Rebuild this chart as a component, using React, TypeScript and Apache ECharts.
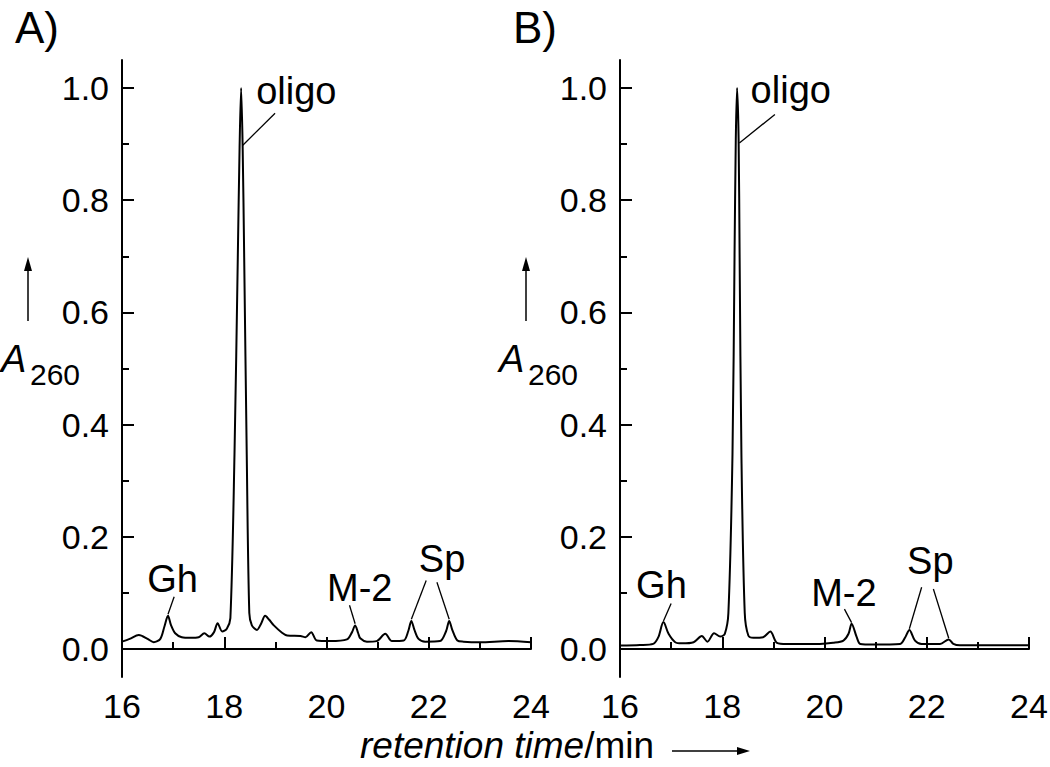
import React, { useEffect, useRef } from 'react';
import * as echarts from 'echarts';

// Panel A chromatogram (retention time in min, normalised A260)
const timeA = [16.0, 16.15, 16.33, 16.5, 16.62, 16.75, 16.83, 16.9, 16.96, 17.04, 17.17, 17.34, 17.5, 17.61, 17.71, 17.8, 17.87, 17.96, 18.05, 18.12, 18.2, 18.265, 18.3, 18.33, 18.36, 18.39, 18.44, 18.49, 18.54, 18.64, 18.72, 18.8, 18.88, 18.97, 19.13, 19.23, 19.49, 19.59, 19.7, 19.81, 20.07, 20.4, 20.5, 20.56, 20.62, 20.66, 20.79, 20.98, 21.15, 21.28, 21.51, 21.6, 21.66, 21.72, 21.8, 21.93, 22.22, 22.34, 22.4, 22.46, 22.56, 22.68, 23.0, 23.56, 24.0];
const absA = [0.013, 0.018, 0.025, 0.018, 0.012, 0.018, 0.04, 0.059, 0.042, 0.028, 0.021, 0.02, 0.021, 0.028, 0.022, 0.03, 0.046, 0.031, 0.036, 0.055, 0.346, 0.698, 0.895, 1.0, 0.895, 0.698, 0.346, 0.064, 0.042, 0.034, 0.045, 0.059, 0.052, 0.042, 0.029, 0.024, 0.023, 0.021, 0.03, 0.015, 0.014, 0.017, 0.03, 0.042, 0.028, 0.019, 0.013, 0.014, 0.027, 0.014, 0.015, 0.032, 0.05, 0.034, 0.018, 0.013, 0.014, 0.032, 0.05, 0.034, 0.015, 0.013, 0.012, 0.014, 0.012];

// Panel B chromatogram
const timeB = [16.0, 16.39, 16.65, 16.75, 16.85, 16.95, 17.08, 17.21, 17.44, 17.6, 17.71, 17.84, 17.96, 18.05, 18.12, 18.2, 18.24, 18.265, 18.29, 18.32, 18.34, 18.375, 18.44, 18.51, 18.61, 18.8, 18.94, 19.07, 19.26, 19.65, 19.91, 20.17, 20.37, 20.47, 20.53, 20.63, 20.7, 20.96, 21.48, 21.58, 21.66, 21.77, 21.9, 22.26, 22.43, 22.52, 22.65, 24.0];
const absB = [0.006, 0.007, 0.009, 0.021, 0.048, 0.027, 0.012, 0.01, 0.012, 0.023, 0.013, 0.028, 0.022, 0.027, 0.064, 0.346, 0.698, 0.909, 1.0, 0.909, 0.698, 0.346, 0.064, 0.024, 0.02, 0.021, 0.031, 0.011, 0.009, 0.009, 0.009, 0.011, 0.015, 0.027, 0.045, 0.021, 0.009, 0.008, 0.009, 0.021, 0.034, 0.015, 0.009, 0.009, 0.017, 0.009, 0.0065, 0.0065];

const yLabelValues = [0, 0.2, 0.4, 0.6, 0.8, 1.0];
const yMinorValues = [0.1, 0.3, 0.5, 0.7, 0.9];
const panelTitles = ['A)', 'B)'];
const peakNames = ['oligo', 'Gh', 'M-2', 'Sp'];
const labelPosA = [[19.41, 0.994], [16.99, 0.1255], [20.65, 0.108], [22.26, 0.161]];
const labelPosB = [[19.34, 0.996], [16.81, 0.114], [20.38, 0.099], [22.07, 0.157]];
const leadersA = [
  [[18.363, 0.898], [18.994, 0.955]],
  [[16.9, 0.062], [17.02, 0.093]],
  [[20.56, 0.045], [20.45, 0.078]],
  [[21.66, 0.053], [21.95, 0.122]],
  [[22.4, 0.053], [22.16, 0.119]],
];
const leadersB = [
  [[18.335, 0.902], [19.03, 0.953]],
  [[16.85, 0.05], [17.0, 0.081]],
  [[20.53, 0.047], [20.39, 0.071]],
  [[21.66, 0.036], [21.9, 0.11]],
  [[22.43, 0.019], [22.13, 0.107]],
];

const FONT = '"Liberation Sans", Arial, Helvetica, sans-serif';

export default function App() {
  const ref = useRef<HTMLDivElement>(null);
  useEffect(() => {
    document.body.style.margin = '0';
    if (!ref.current) return;
    const chart = echarts.init(ref.current, null, { renderer: 'svg' });
    const lefts = [122, 620];
    const top = 60;
    const w = 409;
    const h = 617;
    const panels = [
      { t: timeA, a: absA, lab: labelPosA, lead: leadersA },
      { t: timeB, a: absB, lab: labelPosB, lead: leadersB },
    ];
    const grid = lefts.map((l) => ({ left: l, top, width: w, height: h, outerBoundsMode: 'none' }));
    const xAxis = lefts.map((_, i) => ({
      type: 'value', gridIndex: i, min: 16, max: 24, interval: 2,
      axisLine: { show: true, lineStyle: { color: '#000', width: 2 } },
      axisTick: { show: true, inside: true, length: 12, lineStyle: { color: '#000', width: 2 } },
      minorTick: { show: true, splitNumber: 2, length: 7, lineStyle: { color: '#000', width: 2 } },
      axisLabel: { show: true, margin: 12, color: '#000', fontSize: 34, fontFamily: FONT },
      splitLine: { show: false },
    }));
    const yAxis: any[] = [];
    lefts.forEach((_, i) => {
      yAxis.push({
        type: 'value', gridIndex: i, min: -0.05, max: 1.05, position: 'left',
        axisLine: { show: true, lineStyle: { color: '#000', width: 2 } },
        axisTick: { show: true, inside: true, length: 12, customValues: yLabelValues, lineStyle: { color: '#000', width: 2 } },
        axisLabel: { show: true, margin: 13, color: '#000', fontSize: 34, fontFamily: FONT, customValues: yLabelValues, formatter: (v: number) => v.toFixed(1) },
        splitLine: { show: false },
      });
      yAxis.push({
        type: 'value', gridIndex: i, min: -0.05, max: 1.05, position: 'left',
        axisLine: { show: false },
        axisTick: { show: true, inside: true, length: 7, customValues: yMinorValues, lineStyle: { color: '#000', width: 2 } },
        axisLabel: { show: false },
        splitLine: { show: false },
      });
    });
    const series = panels.map((p, i) => ({
      type: 'line', xAxisIndex: i, yAxisIndex: i * 2,
      data: p.t.map((t, k) => [t, p.a[k]]),
      showSymbol: false, smooth: 0.3, silent: true,
      lineStyle: { color: '#000', width: 2 },
      markLine: {
        silent: true, symbol: ['none', 'none'], animation: false,
        label: { show: false },
        lineStyle: { color: '#000', width: 1.3, type: 'solid' },
        data: p.lead.map((l) => [{ coord: l[0] }, { coord: l[1] }]),
      },
      markPoint: {
        silent: true, animation: false, symbol: 'circle', symbolSize: 1,
        itemStyle: { color: 'rgba(0,0,0,0)' },
        label: { show: true, position: 'inside', formatter: '{b}', color: '#000', fontSize: 38, fontFamily: FONT },
        data: peakNames.map((n, k) => ({ name: n, coord: p.lab[k] })),
      },
    }));
    const graphic: any[] = [];
    lefts.forEach((L, i) => {
      graphic.push({ type: 'text', x: L - 107, y: 27, style: { text: panelTitles[i], fontSize: 44, fontFamily: FONT, fill: '#000', align: 'left', verticalAlign: 'middle' } });
      graphic.push({ type: 'line', shape: { x1: L - 94, y1: 321, x2: L - 94, y2: 268 }, style: { stroke: '#000', lineWidth: 1.5 } });
      graphic.push({ type: 'polygon', shape: { points: [[L - 94, 257], [L - 98, 271], [L - 90, 271]] }, style: { fill: '#000' } });
      graphic.push({ type: 'text', x: L - 121, y: 359, style: { text: 'A', fontSize: 38, fontStyle: 'italic', fontFamily: FONT, fill: '#000', align: 'left', verticalAlign: 'middle' } });
      graphic.push({ type: 'text', x: L - 92, y: 374, style: { text: '260', fontSize: 30, fontFamily: FONT, fill: '#000', align: 'left', verticalAlign: 'middle' } });
    });
    graphic.push({
      type: 'text', x: 360, y: 745,
      style: {
        text: '{i|retention time}{n|/min}', align: 'left', verticalAlign: 'middle',
        rich: {
          i: { fontSize: 37, fontStyle: 'italic', fontFamily: FONT, fill: '#000', color: '#000' },
          n: { fontSize: 37, fontFamily: FONT, fill: '#000', color: '#000' },
        },
      },
    });
    graphic.push({ type: 'line', shape: { x1: 672, y1: 751, x2: 740, y2: 751 }, style: { stroke: '#000', lineWidth: 1.5 } });
    graphic.push({ type: 'polygon', shape: { points: [[750, 751], [737, 747], [737, 755]] }, style: { fill: '#000' } });

    chart.setOption({ animation: false, backgroundColor: '#fff', grid, xAxis, yAxis, series, graphic });
    return () => chart.dispose();
  }, []);
  return <div ref={ref} style={{ width: 1050, height: 767 }} />;
}
